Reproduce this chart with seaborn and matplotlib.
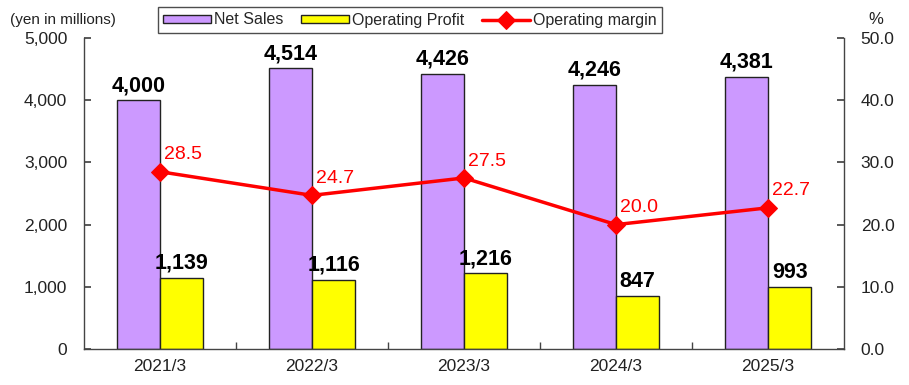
import numpy as np
import pandas as pd
import matplotlib
matplotlib.use("Agg")
import matplotlib.pyplot as plt
import seaborn as sns
from matplotlib.ticker import FuncFormatter, FixedLocator

years = ["2021/3", "2022/3", "2023/3", "2024/3", "2025/3"]
net_sales = [4000, 4514, 4426, 4246, 4381]
op_profit = [1139, 1116, 1216, 847, 993]
op_margin = [28.5, 24.7, 27.5, 20.0, 22.7]
series_names = ["Net Sales", "Operating Profit", "Operating margin"]

sns.set_theme(style="white")
plt.rcParams["font.family"] = ["Liberation Sans", "DejaVu Sans"]

df = pd.DataFrame({
    "year": years * 2,
    "value": net_sales + op_profit,
    "series": [series_names[0]] * len(years) + [series_names[1]] * len(years),
})

fig = plt.figure(figsize=(9.09, 3.85), dpi=100)
ax = fig.add_axes([84 / 909, 1 - 349 / 385, (844 - 84) / 909, (349 - 38) / 385])

sns.barplot(data=df, x="year", y="value", hue="series", order=years,
            hue_order=series_names[:2], palette=["#CC99FF", "#FFFF00"],
            saturation=1, edgecolor="#222222", linewidth=1.0, width=0.57, gap=0,
            ax=ax, legend=False)

ax.set_xlim(-0.5, len(years) - 0.5)
ax.set_ylim(0, 5000)
ax.set_yticks(np.arange(0, 5001, 1000))
ax.yaxis.set_major_formatter(FuncFormatter(lambda v, p: f"{int(v):,}"))
ax.set_xlabel("")
ax.set_ylabel("")

for i, c in enumerate(ax.containers):
    vals = net_sales if i == 0 else op_profit
    ax.bar_label(c, labels=[f"{v:,}" for v in vals], padding=3,
                 fontsize=15.5, fontweight="bold", color="black")

ax2 = ax.twinx()
line_df = pd.DataFrame({"pos": np.arange(len(years)), "margin": op_margin})
sns.lineplot(data=line_df, x="pos", y="margin", ax=ax2, color="#FF0000",
             linewidth=2.5, marker="D", markersize=9, markeredgecolor="#FF0000")
ax2.set_ylim(0, 50)
ax2.set_yticks(np.arange(0, 50.1, 10))
ax2.yaxis.set_major_formatter(FuncFormatter(lambda v, p: f"{v:.1f}"))
ax2.set_xlabel("")
ax2.set_ylabel("")
ax2.set_xlim(-0.5, len(years) - 0.5)

for i, m in enumerate(op_margin):
    ax2.annotate(f"{m:.1f}", (i, m), xytext=(3, 6), textcoords="offset points",
                 ha="left", va="bottom", fontsize=14, color="#FF0000")

spine_color = "#444444"
for a in (ax, ax2):
    for s in a.spines.values():
        s.set_color(spine_color)
        s.set_linewidth(1.0)
    a.spines["top"].set_visible(False)
ax.spines["right"].set_visible(False)
ax2.spines["left"].set_visible(False)
ax2.spines["bottom"].set_visible(False)

ax.set_xticks(np.arange(len(years)))
ax.set_xticklabels(years)
ax.xaxis.set_minor_locator(FixedLocator(np.arange(0.5, len(years) - 0.5, 1)))
ax.tick_params(axis="x", which="major", length=0, labelsize=12.5, pad=7)
ax.tick_params(axis="x", which="minor", length=5, direction="in", color=spine_color, bottom=True)
ax.tick_params(axis="y", length=5, direction="in", left=True, labelsize=12.5,
               color=spine_color, pad=12)
ax2.tick_params(axis="y", length=5, direction="in", right=True, labelsize=12.5,
                color=spine_color, pad=12)
for lab in ax.get_xticklabels() + ax.get_yticklabels() + ax2.get_yticklabels():
    lab.set_color("#222222")

fig.text(10 / 909, 1 - 20 / 385, "(yen in millions)", fontsize=11, va="center",
         ha="left", color="#222222")
fig.text(876 / 909, 1 - 19 / 385, "%", fontsize=12, va="center", ha="center",
         color="#222222")

bar_handles = [matplotlib.patches.Patch(facecolor=col, edgecolor="#222222", linewidth=1.0)
               for col in ["#CC99FF", "#FFFF00"]]
line_handle = ax2.get_lines()[0]
leg = fig.legend(bar_handles + [line_handle], series_names, loc="center",
                 bbox_to_anchor=(410 / 909, 1 - 20 / 385), ncol=3, frameon=True,
                 fancybox=False, edgecolor="#222222", fontsize=11.5,
                 handlelength=3.0, handleheight=0.35, columnspacing=1.1,
                 handletextpad=0.2, borderpad=0.35, borderaxespad=0)
leg.get_frame().set_linewidth(1.0)

fig.savefig("out.png", dpi=100)
